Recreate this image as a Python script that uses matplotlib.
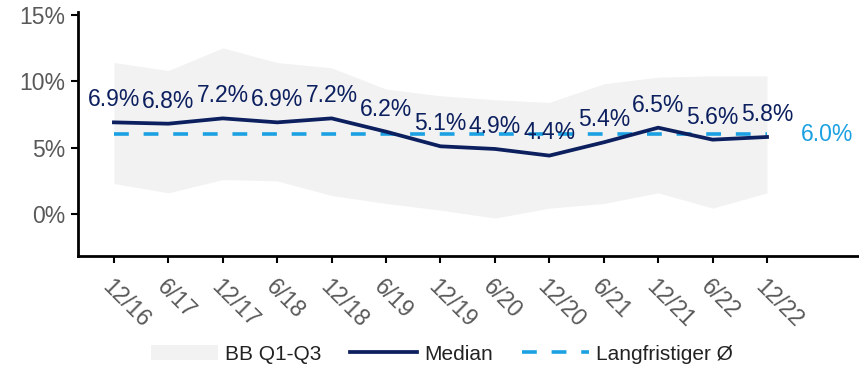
import matplotlib
matplotlib.use("Agg")
import matplotlib.pyplot as plt
import matplotlib.patches as mpatches
from matplotlib.lines import Line2D

plt.rcParams['font.family'] = ['Liberation Sans', 'DejaVu Sans']

categories = ["12/16", "6/17", "12/17", "6/18", "12/18", "6/19", "12/19",
              "6/20", "12/20", "6/21", "12/21", "6/22", "12/22"]
median = [6.9, 6.8, 7.2, 6.9, 7.2, 6.2, 5.1, 4.9, 4.4, 5.4, 6.5, 5.6, 5.8]
q3 = [11.4, 10.8, 12.5, 11.4, 11.0, 9.4, 8.9, 8.6, 8.4, 9.8, 10.3, 10.4, 10.4]
q1 = [2.3, 1.6, 2.6, 2.5, 1.4, 0.8, 0.3, -0.3, 0.45, 0.8, 1.6, 0.45, 1.6]
long_term = 6.0
yticks = [0, 5, 10, 15]

navy = "#0c1f5e"
lblue = "#1ba1e2"
grey = "#595959"
dash = (0, (4.1, 4.1))

fig = plt.figure(figsize=(8.59, 3.68), dpi=100)
ax = fig.add_axes([78/859, 1-256/368, 1-78/859, (256-12)/368])

x = list(range(len(categories)))
ax.fill_between(x, q1, q3, color="#f2f2f2", lw=0, zorder=1)
ax.plot(x, median, color=navy, lw=2.7, zorder=3)
ax.plot(x, [long_term]*len(x), color=lblue, lw=2.6, ls=dash, zorder=2)

for xi, v in zip(x, median):
    ax.annotate(f"{v:.1f}%", (xi, v), xytext=(0, 8), textcoords="offset points",
                ha="center", va="bottom", fontsize=16.5, color=navy, zorder=4)

ax.text(12.62, long_term, f"{long_term:.1f}%", color=lblue, fontsize=16.5,
        ha="left", va="center")

ax.set_xlim(-0.66, 13.69)
ax.set_ylim(-3.15, 15.2)
ax.set_yticks(yticks)
ax.set_yticklabels([f"{t}%" for t in yticks], fontsize=16.5, color=grey)
ax.set_xticks(x)
ax.set_xticklabels(categories, fontsize=16.5, color=grey, rotation=-45,
                   ha="left", va="top", rotation_mode="anchor")

ax.spines["top"].set_visible(False)
ax.spines["right"].set_visible(False)
ax.spines["left"].set_linewidth(2)
ax.spines["bottom"].set_linewidth(2)
ax.tick_params(axis="both", direction="out", length=5, width=1.5, color="black", pad=4)
ax.tick_params(axis="x", pad=9)

handles = [mpatches.Patch(color="#f2f2f2", lw=0),
           Line2D([], [], color=navy, lw=2.7),
           Line2D([], [], color=lblue, lw=2.6, ls=dash)]
labels = ["BB Q1-Q3", "Median", "Langfristiger Ø"]
fig.legend(handles, labels, loc="center", bbox_to_anchor=(442/859, 1-354/368),
           ncol=3, frameon=False, fontsize=15, handlelength=3.2,
           handletextpad=0.35, columnspacing=1.4, labelcolor="#222222")

fig.savefig("out.png", dpi=100)
